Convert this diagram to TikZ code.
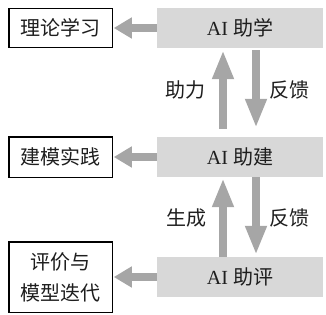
\documentclass[tikz,border=0pt]{standalone}
\usepackage{fontspec}
\setmainfont{Liberation Serif}
\newfontfamily\cjk{Noto Sans CJK SC}
\usetikzlibrary{arrows.meta}
\definecolor{boxgray}{RGB}{216,216,216}
\definecolor{arrgray}{RGB}{166,166,166}
\definecolor{txt}{RGB}{30,30,30}
\tikzset{
  graybox/.style={fill=boxgray, draw=none, minimum width=166pt, minimum height=40pt, inner sep=0pt,
    font=\fontsize{20pt}{24pt}\selectfont, text=txt},
  leftbox/.style={fill=white, draw=black, line width=1.5pt, minimum width=103.5pt, inner sep=0pt,
    font=\fontsize{20pt}{31pt}\selectfont\cjk, text=txt, align=center},
  lbl/.style={font=\fontsize{20pt}{24pt}\selectfont\cjk, text=txt, inner sep=0pt},
  harrow/.style={draw=arrgray, line width=8pt, -{Triangle[width=20pt,length=18pt]}},
  varrow/.style={draw=arrgray, line width=8pt, -{Triangle[width=20pt,length=29pt]}}
}
\begin{document}
\begin{tikzpicture}[x=1pt,y=1pt]
\useasboundingbox (0,0) rectangle (326,-314);
\node[graybox] (g1) at (240,-28) {AI {\cjk 助学}};
\node[graybox] (g2) at (240,-157) {AI {\cjk 助建}};
\node[graybox] (g3) at (240,-277) {AI {\cjk 助评}};
\node[leftbox, minimum height=39pt] (l1) at (60.5,-28) {理论学习};
\node[leftbox, minimum height=40.5pt] (l2) at (60.5,-157) {建模实践};
\node[leftbox, minimum height=70.5pt] (l3) at (60.5,-277) {评价与\\模型迭代};
\draw[harrow] (g1.west) -- ([xshift=0.75pt]l1.east);
\draw[harrow] (g2.west) -- ([xshift=0.75pt]l2.east);
\draw[harrow] (g3.west) -- ([xshift=0.75pt]l3.east);
% between g1 and g2
\draw[varrow] ([xshift=-17pt,yshift=8pt]g2.north) -- ([xshift=-17pt,yshift=-2pt]g1.south);
\draw[varrow] ([xshift=16pt,yshift=-2pt]g1.south) -- ([xshift=16pt,yshift=9pt]g2.north);
% between g2 and g3
\draw[varrow] ([xshift=-17pt]g3.north) -- ([xshift=-17pt,yshift=-1pt]g2.south);
\draw[varrow] ([xshift=16pt]g2.south) -- ([xshift=16pt,yshift=2pt]g3.north);
\node[lbl] (t1) at (185,-90) {助力};
\node[lbl] (t2) at (289,-90) {反馈};
\node[lbl] (t3) at (186,-218) {生成};
\node[lbl] (t4) at (289,-218) {反馈};
\end{tikzpicture}
\end{document}
